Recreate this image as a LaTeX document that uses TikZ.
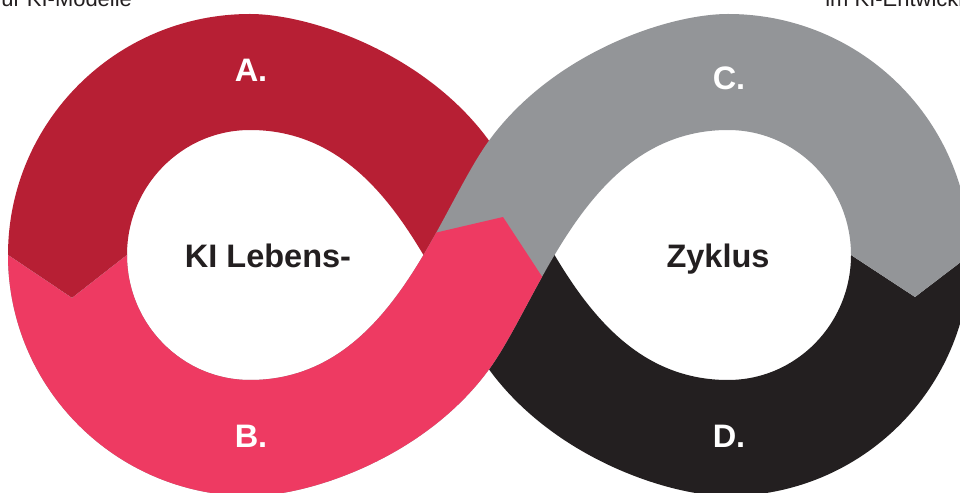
\documentclass[tikz,border=0pt]{standalone}
\usepackage{fontspec}
\setmainfont{Liberation Sans}

\definecolor{segA}{HTML}{B71F34}
\definecolor{segB}{HTML}{EE3A62}
\definecolor{segC}{HTML}{939598}
\definecolor{segD}{HTML}{231F20}
\definecolor{textgray}{HTML}{231F20}

% band from A over the crossing to D (lies underneath)
\newcommand{\bandAD}{(8,255) arc[start angle=180, end angle=270, x radius=242, y radius=241]
    .. controls (310,14) and (426,53) .. (490,142)
    .. controls (542,215) and (588,380) .. (728,380)
    arc[start angle=90, end angle=0, x radius=123, y radius=125]
    -- (915,297) -- (970,255)
    arc[start angle=0, end angle=90, x radius=242, y radius=241]
    .. controls (668,496) and (552,457) .. (488,368)
    .. controls (436,295) and (390,130) .. (250,130)
    arc[start angle=270, end angle=180, x radius=123, y radius=125]
    -- (72,298) -- cycle}
% band from C over the crossing to B (lies on top)
\newcommand{\bandCB}{(970,255) arc[start angle=0, end angle=-90, x radius=242, y radius=241]
    .. controls (668,14) and (552,53) .. (488,142)
    .. controls (436,215) and (390,380) .. (250,380)
    arc[start angle=90, end angle=180, x radius=123, y radius=125]
    -- (72,298) -- (8,255)
    arc[start angle=180, end angle=90, x radius=242, y radius=241]
    .. controls (310,496) and (426,457) .. (490,368)
    .. controls (542,295) and (588,130) .. (728,130)
    arc[start angle=270, end angle=360, x radius=123, y radius=125]
    -- (915,297) -- cycle}

\begin{document}
\begin{tikzpicture}[x=0.02cm, y=-0.02cm,
        segtext/.style={font=\fontsize{18.5}{20}\selectfont\bfseries, text=white, anchor=base},
        centertext/.style={font=\fontsize{18.5}{20}\selectfont\bfseries, text=textgray, anchor=base},
        toptext/.style={font=\fontsize{12.5}{14}\selectfont, text=textgray, anchor=base west, inner sep=0pt}]
    \useasboundingbox (0,0) rectangle (960,493);
    \clip (0,0) rectangle (960,493);
    \fill[white] (0,0) rectangle (960,493);

    \begin{scope}
        \clip (0,0) rectangle (489,496);
        \fill[segA] \bandAD;
    \end{scope}
    \begin{scope}
        \clip (489,0) rectangle (975,496);
        \fill[segD] \bandAD;
    \end{scope}

    \fill[segC] \bandCB;
    \begin{scope}
        \clip (0,241) -- (400,241) -- (503,217) -- (560,304) -- (560,496) -- (0,496) -- cycle;
        \fill[segB] \bandCB;
    \end{scope}

    \node[segtext] (a) at (251,82) {A.};
    \node[segtext] (b) at (251,447) {B.};
    \node[segtext] (c) at (729,90) {C.};
    \node[segtext] (d) at (729,447) {D.};
    \node[centertext] (lebens) at (268,268) {KI Lebens-};
    \node[centertext] (zyklus) at (718,268) {Zyklus};

    \node[toptext] (modelle) at (1,7) {ur KI-Modelle};
    \node[toptext] (entwickl) at (825,7) {im KI-Entwickl};
\end{tikzpicture}
\end{document}
